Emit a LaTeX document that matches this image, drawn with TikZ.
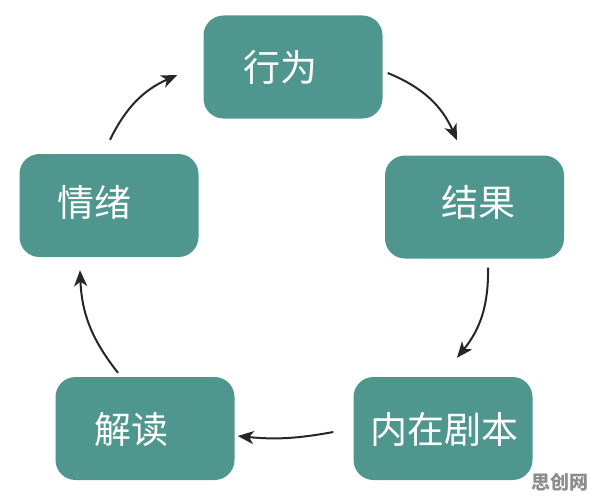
\documentclass[tikz,border=0pt]{standalone}
\usepackage{fontspec}
\setmainfont{Noto Sans CJK SC}
\newfontfamily\cjk{Noto Sans CJK SC}
\usetikzlibrary{arrows.meta,calc}
\definecolor{teal1}{HTML}{4F968F}
\definecolor{wm}{HTML}{8C8C8C}
\begin{document}
\begin{tikzpicture}[x=1pt,y=-1pt,
  box/.style={draw=none,fill=teal1,rounded corners=20pt,minimum width=179pt,minimum height=103pt,inner sep=0pt},
  lbl/.style={text=white,font=\cjk\fontsize{37}{40}\selectfont,inner sep=0pt},
  arr/.style={line width=2pt,-{Stealth[length=16pt,width=13pt,inset=4.5pt]},color=black!85}]
\useasboundingbox (0,0) rectangle (596,500);
\node[box] (b1) at (293,67) {};
\node[box] (b2) at (474.5,207) {};
\node[box] (b3) at (443,428.5) {};
\node[box] (b4) at (145,428.5) {};
\node[box] (b5) at (109,205.5) {};
\node[lbl] (t1) at ($(b1)+(-13,0)$) {行为};
\node[lbl] (t2) at ($(b2)+(4,-5)$) {结果};
\node[lbl] (t3) at ($(b3)+(1,1)$) {内在剧本};
\node[lbl] (t4) at ($(b4)+(-14,1)$) {解读};
\node[lbl] (t5) at ($(b5)+(-15,-3)$) {情绪};
\draw[arr] ($(b1.east)+(5,6)$) to[bend left=22] ($(b2.north)+(-17.5,-15)$);
\draw[arr] ($(b2.south)+(13.5,9)$) to[bend left=20] ($(b3.north)+(14,-19)$);
\draw[arr] ($(b3.west)+(-20,3.5)$) to[bend left=8] ($(b4.east)+(3,7.5)$);
\draw[arr] ($(b4.north)+(-27,-4)$) to[bend left=18] ($(b5.south)+(-29,13)$);
\draw[arr] ($(b5.north)+(1,-14)$) to[bend left=20] ($(b1.west)+(-26,8)$);
\node[text=wm,font=\cjk\bfseries\fontsize{19}{20}\selectfont,inner sep=0pt] (wm) at (560,482) {思创网};
\end{tikzpicture}
\end{document}
